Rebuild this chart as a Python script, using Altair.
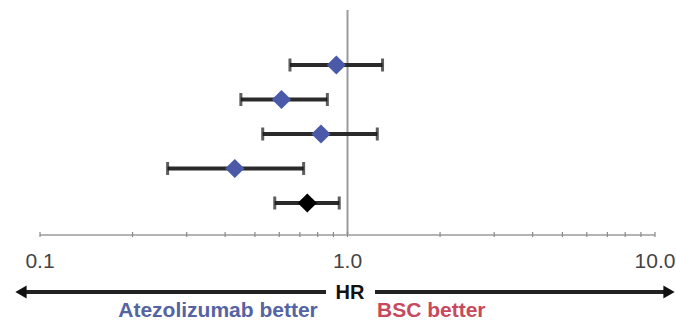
import altair as alt
import pandas as pd

# Forest plot: hazard ratios with 95% confidence intervals
rows = [1, 2, 3, 4, 5]
hr = [0.92, 0.61, 0.82, 0.43, 0.74]
ci_low = [0.65, 0.45, 0.53, 0.26, 0.58]
ci_high = [1.30, 0.86, 1.25, 0.72, 0.94]
kind = ["subgroup", "subgroup", "subgroup", "subgroup", "overall"]

major_ticks = [0.1, 1.0, 10.0]
major_labels = ["0.1", "1.0", "10.0"]
minor_ticks = [0.2, 0.3, 0.4, 0.5, 0.6, 0.7, 0.8, 0.9,
               2, 3, 4, 5, 6, 7, 8, 9]

FONT = "Liberation Sans"

df = pd.DataFrame({"row": rows, "hr": hr, "lo": ci_low, "hi": ci_high, "kind": kind})
ticks_df = pd.DataFrame({"v": major_ticks + minor_ticks})
labels_df = pd.DataFrame({"v": major_ticks, "label": major_labels})
one = alt.Data(values=[{}])

xs = alt.Scale(type="log", domain=[0.1, 10], range=[40, 655])
ys = alt.Scale(domain=[1, 5], range=[65, 203])

# reference line at HR = 1
ref = alt.Chart(pd.DataFrame({"v": [1.0]})).mark_rule(color="#9a9a9a", strokeWidth=2).encode(
    x=alt.X("v:Q", scale=xs, axis=None), y=alt.value(10), y2=alt.value(235)
)

# horizontal HR axis with ticks and labels
axis_line = alt.Chart(pd.DataFrame({"a": [0.1], "b": [10.0]})).mark_rule(
    color="#b4b4b4", strokeWidth=2
).encode(x=alt.X("a:Q", scale=xs, axis=None), x2="b:Q", y=alt.value(235))

tick_marks = alt.Chart(ticks_df).mark_rule(color="#8a8a8a", strokeWidth=1.2).encode(
    x=alt.X("v:Q", scale=xs, axis=None), y=alt.value(232), y2=alt.value(237)
)

tick_text = alt.Chart(labels_df).mark_text(
    font=FONT, fontSize=21, color="#444444", baseline="middle", align="center"
).encode(x=alt.X("v:Q", scale=xs, axis=None), y=alt.value(262), text="label:N")

# confidence intervals with end caps
ci = alt.Chart(df).mark_rule(color="#2a2a2a", strokeWidth=3.8).encode(
    x=alt.X("lo:Q", scale=xs, axis=None), x2="hi:Q",
    y=alt.Y("row:Q", scale=ys, axis=None)
)
cap_lo = alt.Chart(df).mark_tick(orient="vertical", color="#1a1a1a", size=13, thickness=3).encode(
    x=alt.X("lo:Q", scale=xs, axis=None), y=alt.Y("row:Q", scale=ys, axis=None)
)
cap_hi = alt.Chart(df).mark_tick(orient="vertical", color="#1a1a1a", size=13, thickness=3).encode(
    x=alt.X("hi:Q", scale=xs, axis=None), y=alt.Y("row:Q", scale=ys, axis=None)
)

points = alt.Chart(df).mark_point(shape="diamond", filled=True, size=370, opacity=1).encode(
    x=alt.X("hr:Q", scale=xs, axis=None),
    y=alt.Y("row:Q", scale=ys, axis=None),
    color=alt.Color("kind:N",
                    scale=alt.Scale(domain=["subgroup", "overall"], range=["#4a5aa8", "#000000"]),
                    legend=None),
)

# direction arrow under the axis
arrow_left = alt.Chart(one).mark_rule(color="#222222", strokeWidth=4).encode(
    x=alt.value(24), x2=alt.value(326), y=alt.value(292)
)
arrow_right = alt.Chart(one).mark_rule(color="#222222", strokeWidth=4).encode(
    x=alt.value(375), x2=alt.value(666), y=alt.value(292)
)
head_left = alt.Chart(one).mark_point(shape="triangle-left", filled=True, size=170,
                                      color="#111111", opacity=1).encode(
    x=alt.value(21), y=alt.value(292)
)
head_right = alt.Chart(one).mark_point(shape="triangle-right", filled=True, size=170,
                                       color="#111111", opacity=1).encode(
    x=alt.value(669), y=alt.value(292)
)
hr_text = alt.Chart(one).mark_text(
    font=FONT, fontSize=20, fontWeight="bold", color="#111111", baseline="middle", align="center"
).encode(x=alt.value(350), y=alt.value(293), text=alt.value("HR"))

better_left = alt.Chart(one).mark_text(
    font=FONT, fontSize=21, fontWeight="bold", color="#5563a3", baseline="alphabetic", align="center"
).encode(x=alt.value(218), y=alt.value(317), text=alt.value("Atezolizumab better"))
better_right = alt.Chart(one).mark_text(
    font=FONT, fontSize=21, fontWeight="bold", color="#c74a5c", baseline="alphabetic", align="left"
).encode(x=alt.value(377), y=alt.value(317), text=alt.value("BSC better"))

chart = alt.layer(
    ref, axis_line, tick_marks, tick_text, ci, cap_lo, cap_hi, points,
    arrow_left, arrow_right, head_left, head_right, hr_text, better_left, better_right
).properties(
    width=676, height=323, autosize=alt.AutoSizeParams(type="none"), padding=0,
    background="white"
).configure_view(stroke=None)

chart.save("out.html", embed_options={"renderer": "svg", "actions": False})
